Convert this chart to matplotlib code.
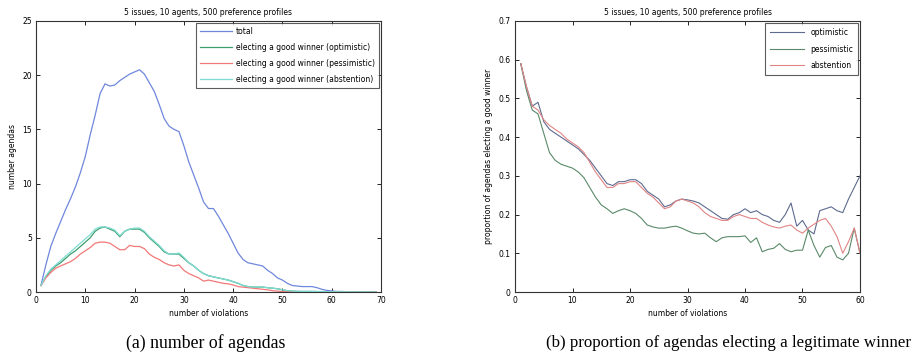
import numpy as np
import matplotlib
matplotlib.use('Agg')
import matplotlib.pyplot as plt

# (a) number of agendas vs number of violations
viol_a = np.arange(1, 70)
total = [0.6, 2.5, 4.2, 5.4, 6.5, 7.6, 8.6, 9.7, 11.0, 12.5,
         14.5, 16.3, 18.3, 19.2, 19.0, 19.1, 19.5, 19.8, 20.1, 20.3,
         20.5, 20.1, 19.3, 18.5, 17.3, 16.0, 15.3, 15.0, 14.8, 13.5,
         12.0, 10.8, 9.6, 8.3, 7.7, 7.7, 7.0, 6.2, 5.4, 4.5,
         3.6, 3.0, 2.7, 2.6, 2.5, 2.4, 2.0, 1.7, 1.3, 1.1,
         0.8, 0.6, 0.55, 0.5, 0.5, 0.5, 0.4, 0.25, 0.15, 0.1,
         0.05, 0.05, 0.02, 0.02, 0.0, 0.0, 0.0, 0.0, 0.0]
good_opt = [0.6, 1.4, 2.0, 2.4, 2.7, 3.1, 3.5, 3.8, 4.2, 4.6,
            5.0, 5.6, 5.9, 6.0, 5.8, 5.6, 5.1, 5.6, 5.8, 5.8,
            5.8, 5.5, 5.0, 4.6, 4.2, 3.7, 3.5, 3.5, 3.5, 3.1,
            2.7, 2.4, 2.0, 1.7, 1.5, 1.4, 1.3, 1.2, 1.1, 0.95,
            0.8, 0.6, 0.5, 0.45, 0.45, 0.45, 0.4, 0.35, 0.3, 0.2,
            0.12, 0.08, 0.06, 0.05, 0.05, 0.05, 0.04, 0.04, 0.03, 0.03,
            0.02, 0.02, 0.02, 0.01, 0.01, 0.01, 0.01, 0.0, 0.0]
good_pes = [0.6, 1.3, 1.8, 2.2, 2.4, 2.6, 2.8, 3.1, 3.5, 3.8,
            4.1, 4.5, 4.6, 4.6, 4.5, 4.2, 3.9, 3.9, 4.3, 4.2,
            4.2, 4.0, 3.5, 3.2, 3.0, 2.7, 2.5, 2.4, 2.5, 2.0,
            1.7, 1.5, 1.3, 1.0, 1.1, 1.0, 0.9, 0.8, 0.75, 0.65,
            0.5, 0.45, 0.4, 0.35, 0.3, 0.25, 0.2, 0.12, 0.08, 0.04,
            0.03, 0.03, 0.03, 0.02, 0.02, 0.02, 0.02, 0.02, 0.01, 0.01,
            0.01, 0.01, 0.01, 0.0, 0.0, 0.0, 0.0, 0.0, 0.0]
good_abs = [0.6, 1.5, 2.1, 2.5, 2.9, 3.3, 3.7, 4.1, 4.5, 4.9,
            5.3, 5.8, 6.0, 6.0, 5.9, 5.7, 5.2, 5.6, 5.8, 5.9,
            5.9, 5.6, 5.1, 4.7, 4.3, 3.8, 3.5, 3.5, 3.6, 3.2,
            2.7, 2.4, 2.0, 1.7, 1.5, 1.4, 1.3, 1.2, 1.1, 0.95,
            0.8, 0.6, 0.5, 0.45, 0.45, 0.45, 0.4, 0.35, 0.3, 0.2,
            0.12, 0.08, 0.06, 0.05, 0.05, 0.05, 0.04, 0.04, 0.03, 0.03,
            0.02, 0.02, 0.02, 0.01, 0.01, 0.01, 0.01, 0.0, 0.0]

# (b) proportion electing a good winner
viol_b = np.arange(1, 61)
optimistic = [0.59, 0.53, 0.48, 0.49, 0.44, 0.42, 0.41, 0.40, 0.39, 0.38,
              0.37, 0.355, 0.34, 0.32, 0.30, 0.28, 0.275, 0.285, 0.285, 0.29,
              0.29, 0.28, 0.26, 0.25, 0.24, 0.22, 0.225, 0.235, 0.24, 0.238,
              0.235, 0.23, 0.22, 0.21, 0.20, 0.19, 0.188, 0.20, 0.205, 0.215,
              0.205, 0.21, 0.20, 0.195, 0.185, 0.18, 0.20, 0.23, 0.17, 0.185,
              0.16, 0.15, 0.21, 0.215, 0.22, 0.21, 0.205, 0.24, 0.27, 0.30]
pessimistic = [0.59, 0.52, 0.47, 0.46, 0.41, 0.36, 0.34, 0.33, 0.325, 0.32,
               0.31, 0.295, 0.27, 0.245, 0.225, 0.215, 0.203, 0.21, 0.215, 0.21,
               0.203, 0.19, 0.173, 0.168, 0.165, 0.165, 0.168, 0.17, 0.165, 0.158,
               0.152, 0.15, 0.152, 0.14, 0.13, 0.14, 0.143, 0.143, 0.143, 0.145,
               0.128, 0.14, 0.104, 0.11, 0.113, 0.125, 0.11, 0.104, 0.108, 0.108,
               0.16, 0.12, 0.09, 0.115, 0.12, 0.09, 0.083, 0.10, 0.165, 0.10]
abstention = [0.59, 0.53, 0.48, 0.47, 0.445, 0.43, 0.42, 0.41, 0.395, 0.385,
              0.375, 0.36, 0.335, 0.31, 0.29, 0.27, 0.27, 0.28, 0.28, 0.285,
              0.285, 0.27, 0.255, 0.245, 0.23, 0.215, 0.22, 0.235, 0.24, 0.235,
              0.23, 0.22, 0.205, 0.195, 0.19, 0.185, 0.185, 0.195, 0.20, 0.195,
              0.19, 0.19, 0.18, 0.173, 0.168, 0.165, 0.17, 0.173, 0.16, 0.152,
              0.165, 0.175, 0.185, 0.19, 0.17, 0.143, 0.10, 0.13, 0.165, 0.10]

title = '5 issues, 10 agents, 500 preference profiles'
fs = 5.5

fig = plt.figure(figsize=(9.17, 3.62), dpi=100)


def style(ax):
	ax.tick_params(direction='in', top=True, right=True, labelsize=fs, length=3, width=0.6, pad=3)
	for s in ax.spines.values():
		s.set_linewidth(0.8)
		s.set_color('#333333')


# left panel
ax1 = fig.add_axes([36/917, 70/362, 345/917, 271/362])
ax1.plot(viol_a, total, color='#6f87dc', lw=0.9, label='total')
ax1.plot(viol_a, good_opt, color='#3c9e6c', lw=0.9, label='electing a good winner (optimistic)')
ax1.plot(viol_a, good_pes, color='#f27878', lw=0.9, label='electing a good winner (pessimistic)')
ax1.plot(viol_a, good_abs, color='#7fdcd4', lw=0.9, label='electing a good winner (abstention)')
ax1.set_xlim(0, 70)
ax1.set_ylim(0, 25)
ax1.set_xticks(range(0, 71, 10))
ax1.set_yticks(range(0, 26, 5))
ax1.set_title(title, fontsize=fs, pad=4)
ax1.set_xlabel('number of violations', fontsize=fs, labelpad=3)
ax1.set_ylabel('number agendas', fontsize=fs, labelpad=4)
style(ax1)
leg = ax1.legend(loc='upper right', fontsize=fs, fancybox=False, edgecolor='#333333',
	handlelength=4.2, borderaxespad=0.3, labelspacing=0.9, handletextpad=0.5,
	borderpad=0.5)
leg.get_frame().set_linewidth(0.8)

# right panel
ax2 = fig.add_axes([515/917, 70/362, 345/917, 271/362])
ax2.plot(viol_b, optimistic, color='#5d6b8e', lw=0.8, label='optimistic')
ax2.plot(viol_b, pessimistic, color='#5a8a6a', lw=0.8, label='pessimistic')
ax2.plot(viol_b, abstention, color='#e08484', lw=0.8, label='abstention')
ax2.set_xlim(0, 60)
ax2.set_ylim(0, 0.7)
ax2.set_xticks(range(0, 61, 10))
ax2.set_yticks(np.arange(0, 0.71, 0.1))
ax2.set_yticklabels(['0', '0.1', '0.2', '0.3', '0.4', '0.5', '0.6', '0.7'])
ax2.set_title(title, fontsize=fs, pad=4)
ax2.set_xlabel('number of violations', fontsize=fs, labelpad=3)
ax2.set_ylabel('proportion of agendas electing a good winner', fontsize=fs, labelpad=4)
style(ax2)
leg2 = ax2.legend(loc='upper right', fontsize=fs, fancybox=False, edgecolor='#333333',
	handlelength=4.5, borderaxespad=0.3, labelspacing=1.0, handletextpad=0.8,
	borderpad=0.6)
leg2.get_frame().set_linewidth(0.8)

# captions
fig.text(206/917, 1 - 343/362, '(a) number of agendas', ha='center', va='center',
	fontsize=12.8, family='Liberation Serif')
fig.text(729/917, 1 - 343/362, '(b) proportion of agendas electing a legitimate winner',
	ha='center', va='center', fontsize=12.2, family='Liberation Serif')

fig.savefig('out.png', dpi=100)
